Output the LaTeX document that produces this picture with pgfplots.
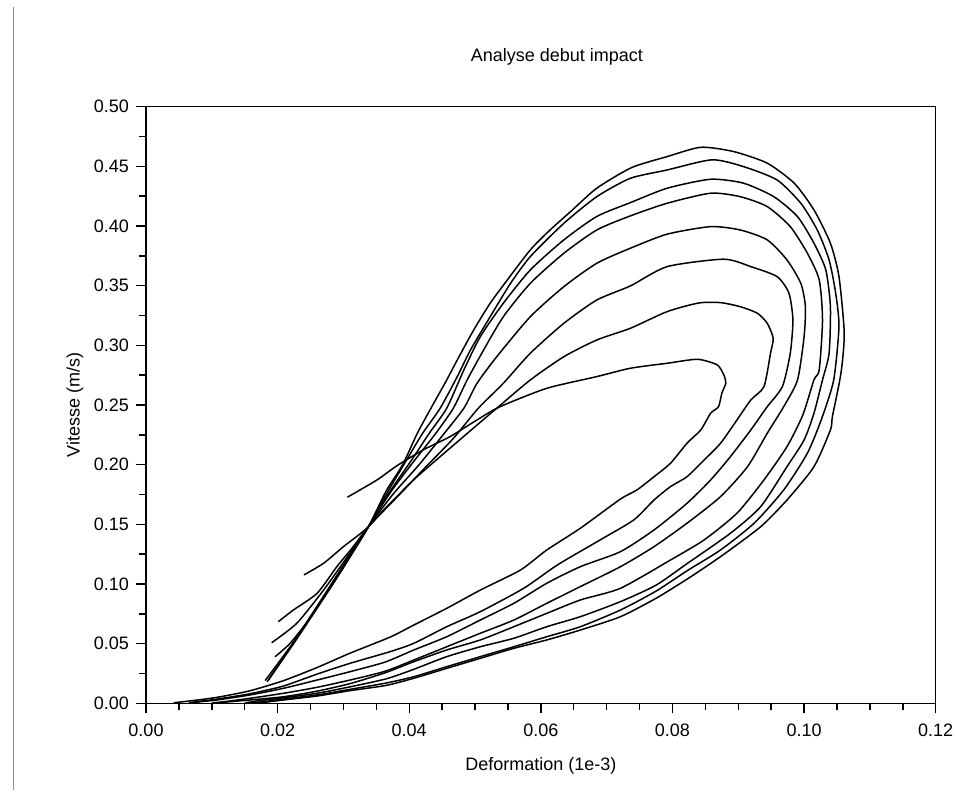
\documentclass[border=0pt]{standalone}
\usepackage{fontspec}
\setmainfont{Liberation Sans}
\usepackage{pgfplots}
\pgfplotsset{compat=1.18}
\begin{document}
\begin{tikzpicture}
\path[use as bounding box] (-73pt,-46.85pt) rectangle (405pt,351.65pt);
\draw[line width=0.5pt, color=black!45] (-66pt,-43.35pt) -- (-66pt,348.15pt);
\begin{axis}[
  at={(0,0)}, anchor=south west,
  scale only axis, width=394.85pt, height=298.3pt,
  xmin=0, xmax=0.12, ymin=0, ymax=0.5,
  xtick={0,0.02,0.04,0.06,0.08,0.1,0.12},
  ytick={0,0.05,0.1,0.15,0.2,0.25,0.3,0.35,0.4,0.45,0.5},
  minor x tick num=3, minor y tick num=1,
  tick align=outside, xtick pos=left, ytick pos=left,
  major tick length=5pt, minor tick length=3.5pt,
  tick style={black, line width=0.7pt},
  axis line style={line width=0.7pt},
  cycle list={{black}},
  every axis plot post/.append style={black, solid, line width=0.75pt, smooth, tension=0.4, mark=none},
  ticklabel style={font=\fontsize{9}{11}\selectfont},
  xticklabel style={yshift=-2pt},
  /pgf/number format/.cd, fixed, fixed zerofill, precision=2, assume math mode=true,
  /pgfplots/.cd,
  scaled ticks=false,
  title={Analyse debut impact},
  title style={at={(axis description cs:0.5,1)}, anchor=center, xshift=8pt, yshift=18.9pt, font=\fontsize{9}{11}\selectfont},
  xlabel={Deformation (1e-3)},
  xlabel style={at={(axis description cs:0.5,0)}, anchor=center, yshift=-31.35pt, font=\fontsize{9}{11}\selectfont},
  ylabel={Vitesse (m/s)},
  ylabel style={at={(axis description cs:-0.0899,0.5)}, anchor=center, font=\fontsize{9}{11}\selectfont},
]
% loop 1
\addplot coordinates {(0.0306,0.1727) (0.0351,0.1872) (0.0381,0.199) (0.0421,0.2123) (0.0462,0.2235) (0.0503,0.2375) (0.0538,0.2486) (0.0609,0.264) (0.0685,0.2738) (0.0736,0.2808) (0.0792,0.285) (0.0838,0.2883) (0.0868,0.2836) (0.0878,0.2752) (0.0881,0.2682) (0.0875,0.2599) (0.087,0.2486) (0.0858,0.2431) (0.0843,0.2291) (0.0822,0.2179) (0.0797,0.2012) (0.0772,0.1899) (0.0746,0.1788) (0.0721,0.1712) (0.066,0.1467) (0.0609,0.1285) (0.0569,0.1117) (0.0508,0.0949) (0.0457,0.0796) (0.0407,0.0656) (0.0371,0.0555) (0.031,0.042) (0.026,0.030) (0.0209,0.019) (0.0158,0.0105) (0.0108,0.005) (0.0067,0.002) (0.0042,0.0005)};
% loop 2
\addplot coordinates {(0.024,0.1076) (0.027,0.1174) (0.030,0.1313) (0.032,0.1397) (0.0338,0.148) (0.0361,0.162) (0.0386,0.176) (0.0412,0.19) (0.0475,0.22) (0.0533,0.2473) (0.0584,0.271) (0.0635,0.2905) (0.0685,0.3045) (0.0736,0.3143) (0.0792,0.3283) (0.084,0.3355) (0.0873,0.3358) (0.0903,0.3324) (0.0929,0.3269) (0.0944,0.3185) (0.0953,0.306) (0.0949,0.2934) (0.0939,0.2654) (0.0919,0.2542) (0.0898,0.2375) (0.0873,0.2179) (0.0848,0.2039) (0.0822,0.1899) (0.0797,0.1816) (0.0772,0.1704) (0.0741,0.1536) (0.069,0.1369) (0.0625,0.1159) (0.0574,0.0964) (0.0508,0.0768) (0.0457,0.0642) (0.0407,0.0503) (0.0371,0.0433) (0.031,0.0335) (0.026,0.0245) (0.0209,0.0145) (0.0158,0.008) (0.0108,0.0035) (0.0082,0.0017) (0.0065,0.0005)};
% loop 3
\addplot coordinates {(0.0201,0.0684) (0.0224,0.0782) (0.026,0.0922) (0.029,0.1145) (0.0315,0.1313) (0.0338,0.148) (0.038,0.172) (0.0425,0.198) (0.0467,0.222) (0.0505,0.2473) (0.0543,0.2682) (0.0584,0.2934) (0.0635,0.3185) (0.0685,0.338) (0.0736,0.3498) (0.0792,0.366) (0.0878,0.3722) (0.0919,0.366) (0.0959,0.3576) (0.0977,0.3437) (0.0983,0.3213) (0.0979,0.2934) (0.0967,0.2654) (0.0944,0.2486) (0.0919,0.2291) (0.0888,0.2067) (0.0858,0.1872) (0.0822,0.1676) (0.0772,0.1453) (0.0721,0.1271) (0.066,0.1145) (0.0609,0.1006) (0.0559,0.0838) (0.0508,0.0698) (0.0457,0.0558) (0.0407,0.0447) (0.0363,0.0345) (0.031,0.0265) (0.026,0.0195) (0.0209,0.0126) (0.0158,0.007) (0.0108,0.0028) (0.0082,0.0013) (0.007,0.0003)};
% loop 4
\addplot coordinates {(0.0191,0.0508) (0.0229,0.067) (0.027,0.095) (0.0305,0.122) (0.0338,0.148) (0.0375,0.175) (0.0415,0.2) (0.045,0.224) (0.0483,0.2473) (0.0503,0.2682) (0.0533,0.2905) (0.0584,0.324) (0.0635,0.3492) (0.0685,0.3688) (0.0736,0.3814) (0.0792,0.3932) (0.0858,0.3995) (0.0903,0.3967) (0.0944,0.3884) (0.0974,0.3716) (0.0995,0.352) (0.1002,0.3324) (0.1,0.3073) (0.099,0.271) (0.0969,0.2486) (0.0944,0.2263) (0.0914,0.1983) (0.0873,0.1732) (0.0822,0.1509) (0.0772,0.1313) (0.0721,0.1145) (0.066,0.0978) (0.0609,0.0838) (0.0559,0.0698) (0.0508,0.0587) (0.0457,0.0474) (0.0407,0.0363) (0.0363,0.0268) (0.031,0.0195) (0.026,0.0134) (0.0209,0.0084) (0.0158,0.0042) (0.0118,0.0013) (0.01,0.0003)};
% loop 5
\addplot coordinates {(0.0196,0.039) (0.0219,0.0503) (0.025,0.072) (0.029,0.105) (0.0338,0.148) (0.0373,0.178) (0.041,0.205) (0.044,0.226) (0.0467,0.2473) (0.0488,0.271) (0.0513,0.2961) (0.0543,0.324) (0.0584,0.352) (0.0635,0.3772) (0.0685,0.3967) (0.0736,0.4085) (0.0792,0.4191) (0.0858,0.4275) (0.0903,0.4246) (0.0944,0.4163) (0.0979,0.3995) (0.1005,0.3772) (0.1023,0.3548) (0.1028,0.3213) (0.1023,0.2794) (0.1015,0.2711) (0.0998,0.2415) (0.0974,0.2151) (0.0939,0.1872) (0.0898,0.1593) (0.0848,0.1369) (0.0797,0.1201) (0.0721,0.0964) (0.066,0.0866) (0.0609,0.0754) (0.0559,0.0642) (0.0508,0.0531) (0.0457,0.0447) (0.0407,0.0349) (0.0363,0.0255) (0.031,0.0165) (0.026,0.0102) (0.0209,0.0055) (0.0158,0.0028) (0.0123,0.0011) (0.011,0.0003)};
% loop 6
\addplot coordinates {(0.0181,0.019) (0.0225,0.052) (0.027,0.09) (0.0305,0.12) (0.0338,0.148) (0.037,0.177) (0.0405,0.205) (0.043,0.226) (0.0457,0.2473) (0.0483,0.2794) (0.0508,0.3073) (0.0543,0.3353) (0.0584,0.3632) (0.0635,0.3884) (0.0685,0.408) (0.0736,0.4196) (0.0792,0.4317) (0.0858,0.4392) (0.0908,0.4359) (0.0954,0.4246) (0.099,0.4079) (0.1015,0.3856) (0.1033,0.3632) (0.104,0.3324) (0.1038,0.2934) (0.1028,0.2711) (0.1015,0.2431) (0.1,0.2207) (0.0974,0.1983) (0.0934,0.1648) (0.0888,0.1425) (0.0822,0.117) (0.0775,0.099) (0.0721,0.0852) (0.066,0.0726) (0.0609,0.0642) (0.0559,0.0545) (0.0508,0.0474) (0.0457,0.0391) (0.0407,0.0285) (0.0365,0.0205) (0.031,0.0138) (0.026,0.0084) (0.0209,0.0047) (0.0168,0.0019) (0.015,0.0003)};
% loop 7
\addplot coordinates {(0.0186,0.0195) (0.0228,0.053) (0.0272,0.09) (0.0306,0.12) (0.0338,0.148) (0.0368,0.178) (0.0395,0.203) (0.042,0.226) (0.0447,0.2473) (0.0473,0.2738) (0.0493,0.2961) (0.0523,0.324) (0.0554,0.352) (0.0584,0.3744) (0.0635,0.4023) (0.0685,0.4246) (0.0736,0.44) (0.0792,0.447) (0.086,0.4555) (0.0908,0.4498) (0.0959,0.4386) (0.0995,0.4191) (0.102,0.3967) (0.1038,0.3716) (0.1048,0.3437) (0.1053,0.3157) (0.1045,0.271) (0.1027,0.239) (0.1005,0.2096) (0.0969,0.1788) (0.0924,0.1509) (0.0873,0.1285) (0.0822,0.111) (0.0775,0.094) (0.0721,0.0782) (0.066,0.0642) (0.0609,0.0558) (0.0559,0.0474) (0.0508,0.0391) (0.0457,0.0307) (0.0407,0.0223) (0.0365,0.017) (0.031,0.0117) (0.026,0.007) (0.0209,0.0036) (0.0178,0.0013) (0.016,0.0003)};
% loop 8
\addplot coordinates {(0.0184,0.018) (0.0228,0.054) (0.0274,0.092) (0.0307,0.12) (0.0338,0.148) (0.0365,0.178) (0.039,0.2) (0.0412,0.226) (0.0433,0.2473) (0.0457,0.271) (0.0473,0.2878) (0.0498,0.3129) (0.0523,0.3353) (0.0549,0.3548) (0.0584,0.38) (0.0614,0.3967) (0.0645,0.412) (0.0685,0.4317) (0.0738,0.449) (0.0792,0.4582) (0.0843,0.466) (0.0893,0.4624) (0.0944,0.4527) (0.0985,0.4359) (0.1015,0.4135) (0.104,0.3856) (0.1053,0.3576) (0.1061,0.3101) (0.1056,0.2766) (0.1043,0.2403) (0.104,0.2291) (0.1015,0.1983) (0.0974,0.1704) (0.0934,0.148) (0.0873,0.1229) (0.0822,0.104) (0.0775,0.088) (0.0721,0.0726) (0.066,0.0614) (0.0609,0.0531) (0.0559,0.0461) (0.0508,0.0377) (0.0457,0.0293) (0.0407,0.021) (0.0365,0.015) (0.031,0.0106) (0.026,0.0061) (0.0209,0.0028) (0.0184,0.0011) (0.017,0.0003)};
\end{axis}
\end{tikzpicture}
\end{document}
